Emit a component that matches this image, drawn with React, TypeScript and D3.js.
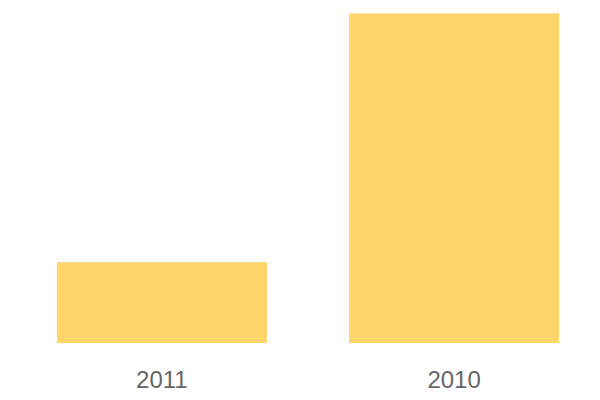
import React from "react";
import * as d3 from "d3";

const categories = ["2011", "2010"];
const values = [49, 200];

export default function App() {
  const width = 600;
  const height = 400;
  const x = d3.scaleBand<string>().domain(categories).range([16, 600]).paddingInner(0.281).paddingOuter(0.14);
  const y = d3.scaleLinear().domain([0, 200]).range([343, 13.3]);
  return (
    <svg width={width} height={height} style={{ position: "absolute", left: 0, top: 0 }}>
      <rect width={width} height={height} fill="#ffffff" />
      {categories.map((c, i) => (
        <g key={c}>
          <rect x={x(c)} y={y(values[i])} width={x.bandwidth()} height={y(0) - y(values[i])} fill="#FFD56B" />
          <text
            x={(x(c) as number) + x.bandwidth() / 2}
            y={387.5}
            textAnchor="middle"
            fontFamily="Liberation Sans, Arial, sans-serif"
            fontSize={24}
            fill="#666666"
          >
            {c}
          </text>
        </g>
      ))}
    </svg>
  );
}
